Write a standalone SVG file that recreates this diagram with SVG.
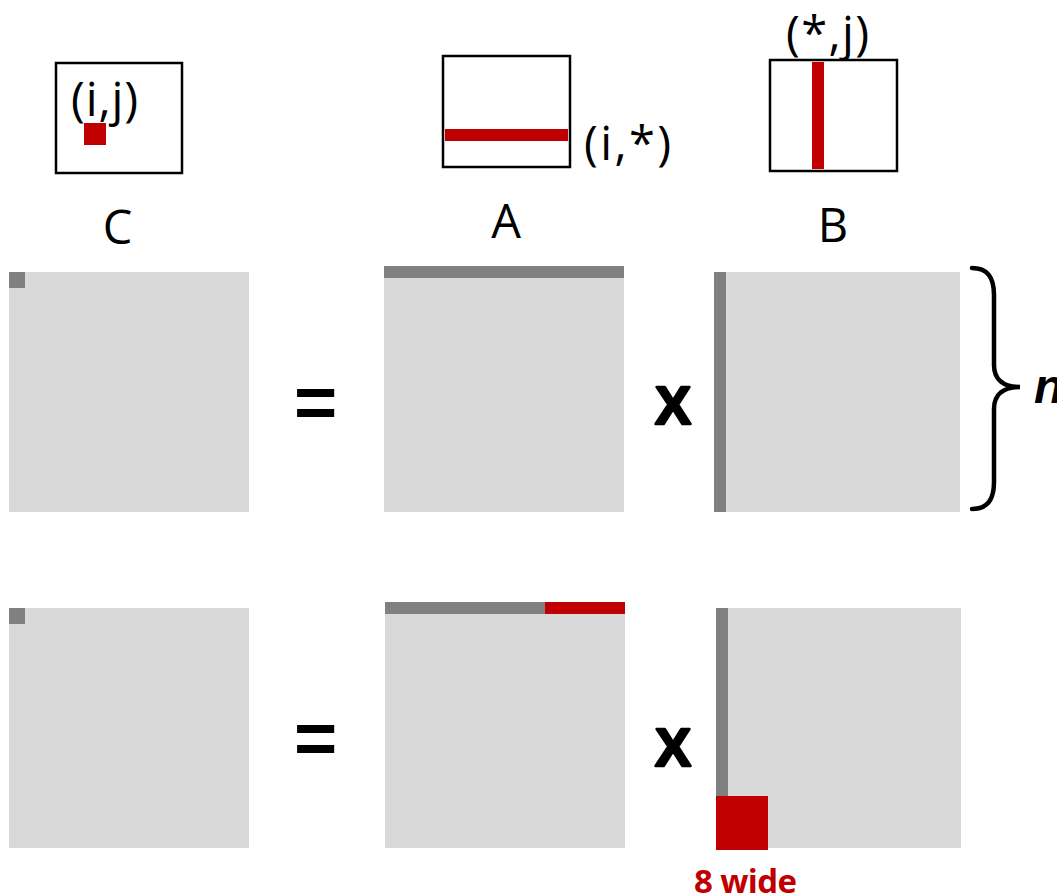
<svg xmlns="http://www.w3.org/2000/svg" width="1057" height="895" viewBox="0 0 1057 895">
<style>
.lt{fill:#d9d9d9}
.dk{fill:#808080}
.rd{fill:#c00000}
.box{fill:#fff;stroke:#000;stroke-width:2.5}
.lbl{font-family:"Open Sans","Liberation Sans",sans-serif;font-size:47px;fill:#000}
.op{font-family:"Liberation Sans",Arial,sans-serif;font-weight:bold;fill:#000}
.heavy{stroke:#000;stroke-width:2.5;stroke-linejoin:round}
</style>
<rect width="1057" height="895" fill="#fff"/>
<g id="legend-C">
<rect class="box" x="56" y="63" width="126" height="110"/>
<text class="lbl" x="71" y="116" textLength="67" lengthAdjust="spacing">(i,j)</text>
<rect class="rd" x="84" y="123" width="22" height="22"/>
<text class="lbl" x="117.5" y="244" text-anchor="middle">C</text>
</g>
<g id="legend-A">
<rect class="box" x="443" y="56" width="127" height="111"/>
<rect class="rd" x="445" y="129" width="123" height="12"/>
<text class="lbl" x="584" y="160" textLength="87" lengthAdjust="spacing">(i,*)</text>
<text class="lbl" x="506" y="238" text-anchor="middle">A</text>
</g>
<g id="legend-B">
<text class="lbl" x="786" y="50" textLength="83" lengthAdjust="spacing">(*,j)</text>
<rect class="box" x="770" y="60" width="127" height="111"/>
<rect class="rd" x="812" y="62" width="12" height="107"/>
<text class="lbl" x="833" y="242" text-anchor="middle">B</text>
</g>
<g id="row1-C">
<rect class="lt" x="9" y="272" width="240" height="240"/>
<rect class="dk" x="9" y="272" width="16" height="16"/>
</g>
<g id="row1-eq"><text class="op" x="294" y="428" font-size="74">=</text></g>
<g id="row1-A">
<rect class="lt" x="384" y="272" width="240" height="240"/>
<rect class="dk" x="384" y="266" width="240" height="12"/>
</g>
<g id="row1-x"><text class="op heavy" x="655" y="424" font-size="54">X</text></g>
<g id="row1-B">
<rect class="lt" x="714" y="272" width="246" height="240"/>
<rect class="dk" x="714" y="272" width="12" height="240"/>
</g>
<g id="brace">
<path d="M972,268 C988,268 994,278 994,295 L994,365 C994,380 1004,387 1020,387 C1004,387 994,394 994,409 L994,482 C994,499 988,509 972,509" fill="none" stroke="#000" stroke-width="4.5" stroke-linecap="round"/>
<text x="1034" y="403" font-family="'Liberation Sans',Arial,sans-serif" font-weight="bold" font-style="italic" font-size="48" fill="#000">n</text>
</g>
<g id="row2-C">
<rect class="lt" x="9" y="608" width="240" height="240"/>
<rect class="dk" x="9" y="608" width="16" height="16"/>
</g>
<g id="row2-eq"><text class="op" x="294" y="764" font-size="74">=</text></g>
<g id="row2-A">
<rect class="lt" x="385" y="608" width="240" height="240"/>
<rect class="dk" x="385" y="602" width="160" height="12"/>
<rect class="rd" x="545" y="602" width="80" height="12"/>
</g>
<g id="row2-x"><text class="op heavy" x="655" y="766" font-size="54">X</text></g>
<g id="row2-B">
<rect class="lt" x="716" y="608" width="245" height="240"/>
<rect class="dk" x="716" y="608" width="12" height="188"/>
<rect class="rd" x="716" y="796" width="52" height="54"/>
<text x="694" y="893" font-family="'Open Sans','Liberation Sans',sans-serif" font-weight="bold" font-size="33" fill="#c00000" textLength="103" lengthAdjust="spacing">8 wide</text>
</g>
<g id="connectors"/>
</svg>
